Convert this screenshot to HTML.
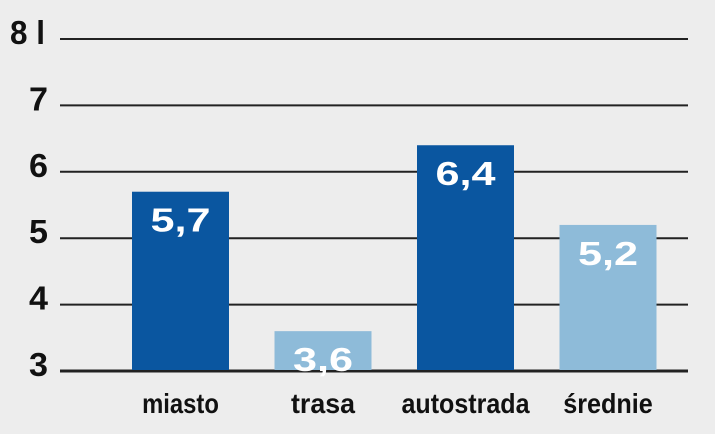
<!DOCTYPE html>
<html><head><meta charset="utf-8"><style>
html,body{margin:0;padding:0;background:#ededed;}
svg{display:block;}
.ax{font-family:"Liberation Sans",sans-serif;font-weight:bold;font-size:33px;fill:#111;}
.cat{font-family:"Liberation Sans",sans-serif;font-weight:bold;font-size:28px;fill:#111;}
.val{font-family:"Liberation Sans",sans-serif;font-weight:bold;font-size:33px;fill:#fff;}
</style></head><body>
<svg id="chart" width="715" height="434" viewBox="0 0 715 434">
<rect width="715" height="434" fill="#ededed"/>
<g id="grid"></g><g id="bars"></g><g id="labels"></g>
</svg>
<script>
const categories = ["miasto","trasa","autostrada","średnie"];
const values = [5.7,3.6,6.4,5.2];
const valueLabels = ["5,7","3,6","6,4","5,2"];
const barColors = ["#0a56a0","#8ebbd9","#0a56a0","#8ebbd9"];
const ticks = [3,4,5,6,7,8];
const tickLabels = ["3","4","5","6","7","8 l"];
const NS="http://www.w3.org/2000/svg";
const y0=371, yTop=39, vmin=3, vmax=8;
function y(v){return y0-(v-vmin)/(vmax-vmin)*(y0-yTop);}
const x0=60, x1=688, bandStart=110, band=142.5, barW=97;
function x(i){return bandStart+i*band+22;}
function mk(tag,attrs,parent){const e=document.createElementNS(NS,tag);for(const k in attrs)e.setAttribute(k,attrs[k]);parent.appendChild(e);return e;}
const grid=document.getElementById('grid'),bars=document.getElementById('bars'),labels=document.getElementById('labels');
ticks.forEach((t,i)=>{
  const l=mk('line',{x1:x0,x2:x1,y1:y(t),y2:y(t),stroke:'#222','stroke-width':t===vmin?3:2},grid);
  
  
  const lab=tickLabels[i];
  const tx=mk('text',{x:t===8?10:29,y:y(t)+5,class:'ax',textLength:t===8?35:19,lengthAdjust:'spacingAndGlyphs'},grid);
  tx.textContent=lab;
  
  
});
categories.forEach((c,i)=>{
  const r=mk('rect',{x:x(i),y:y(values[i]),width:barW,height:y0-y(values[i])-1,fill:barColors[i]},bars);
  
  
  const v=mk('text',{x:x(i)+barW/2,y:y(values[i])+40,class:'val','text-anchor':'middle',textLength:60,lengthAdjust:'spacingAndGlyphs'},labels);
  v.textContent=valueLabels[i];
  
  
  const t=mk('text',{x:x(i)+barW/2,y:413,class:'cat','text-anchor':'middle',textLength:c.length*12.8,lengthAdjust:'spacingAndGlyphs'},labels);
  t.textContent=c;
  
  
});
</script>
</body></html>
